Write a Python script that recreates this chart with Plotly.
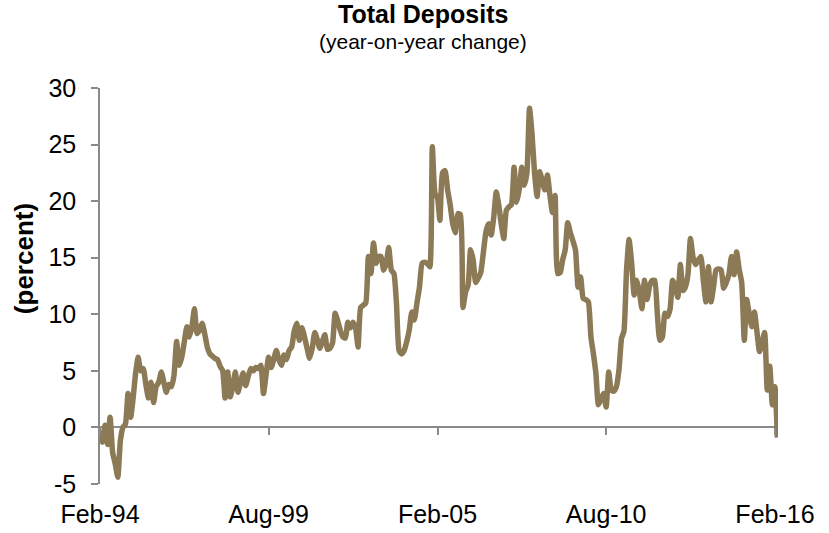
import pandas as pd
import plotly.graph_objects as go

# Year-on-year change in total deposits (percent), monthly from Feb-1994
yoy_change = [
    -0.3, -1.3, 0.2, -1.5, 0.9, -2.2, -3.2, -4.4, -1.2, 0.0, 0.3, 3.0,
    0.9, 2.5, 4.8, 6.2, 5.0, 5.2, 3.8, 2.6, 4.0, 2.2, 3.6, 4.0,
    4.9, 4.0, 3.1, 3.8, 3.6, 4.6, 7.6, 5.5, 6.2, 7.6, 8.9, 8.0,
    9.0, 10.5, 8.3, 8.6, 9.2, 8.3, 7.1, 6.5, 6.3, 6.1, 6.0, 5.4,
    5.0, 2.6, 4.9, 2.7, 3.6, 4.9, 3.1, 4.0, 4.8, 3.7, 4.5, 5.2,
    5.0, 5.3, 5.2, 5.5, 3.0, 4.6, 6.2, 5.3, 6.0, 6.8, 6.0, 5.5,
    6.4, 6.0, 6.8, 7.1, 8.5, 9.2, 7.7, 8.8, 8.0, 7.0, 6.1, 7.0,
    8.4, 7.8, 7.0, 7.6, 8.2, 6.9, 7.0, 7.5, 10.1, 9.4, 8.6, 8.0,
    7.9, 9.3, 8.8, 9.3, 8.8, 7.1, 10.6, 10.8, 11.0, 15.1, 13.6, 16.3,
    14.5, 15.1, 15.1, 13.9, 14.5, 15.9, 13.9, 13.6, 11.0, 6.8, 6.5, 6.8,
    7.6, 8.6, 10.2, 9.5, 11.0, 12.4, 14.5, 14.6, 14.5, 14.2, 24.8, 20.7,
    20.3, 18.3, 22.5, 22.7, 21.0, 19.7, 18.0, 17.2, 18.9, 18.8, 10.6, 12.0,
    12.6, 15.7, 14.8, 12.8, 13.2, 13.7, 15.5, 17.3, 18.0, 17.0, 18.5, 20.8,
    19.6, 18.0, 16.7, 19.2, 19.5, 19.7, 23.0, 19.9, 21.0, 23.0, 21.4, 22.5,
    28.2, 26.0, 22.5, 20.4, 22.6, 21.8, 21.0, 22.3, 20.5, 19.0, 20.5, 13.6,
    13.7, 14.8, 15.7, 18.1, 17.2, 16.5, 15.7, 12.4, 13.3, 11.4, 11.3, 11.1,
    8.0, 6.6, 4.8, 2.0, 2.5, 3.0, 1.8, 4.9, 3.3, 3.2, 3.6, 5.1,
    7.9, 8.5, 13.9, 16.6, 14.5, 11.7, 13.0, 12.0, 10.5, 13.0, 11.3, 12.5,
    13.0, 13.0, 10.1, 7.7, 8.0, 10.1, 9.8, 10.5, 13.0, 12.5, 11.5, 14.4,
    12.1, 12.4, 13.5, 16.7, 15.0, 14.4, 14.8, 15.1, 13.0, 11.1, 14.2, 11.1,
    12.5, 13.9, 14.0, 13.9, 12.3, 12.8, 13.5, 15.1, 13.5, 15.5, 14.0, 12.8,
    7.7, 11.3, 10.0, 8.9, 10.2, 8.5, 6.7, 7.5, 8.4, 3.3, 5.4, 2.0,
    3.6, -0.9,
]
months = pd.date_range("1994-02-01", periods=len(yoy_change), freq="MS")

tick_dates = ["1994-02-01", "1999-08-01", "2005-02-01", "2010-08-01", "2016-02-01"]
tick_labels = ["Feb-94", "Aug-99", "Feb-05", "Aug-10", "Feb-16"]
y_ticks = [-5, 0, 5, 10, 15, 20, 25, 30]
y_tick_labels = ["-5", "0", "5", "10", "15", "20", "25", "30"]

x_range = ["1994-02-01", "2016-03-08"]
axis_grey = "#8a8a8a"
line_colour = "#8C7A57"
font_family = "Liberation Sans, Arial, sans-serif"

fig = go.Figure()
fig.add_trace(go.Scatter(
    x=months, y=yoy_change, mode="lines",
    line=dict(color=line_colour, width=5.5, shape="spline", smoothing=0.5),
    showlegend=False, hoverinfo="x+y",
))
# Invisible copy so the zero-line tick axis gets its own subplot
fig.add_trace(go.Scatter(
    x=months, y=yoy_change, mode="lines", xaxis="x2",
    line=dict(color=line_colour, width=0), opacity=0,
    showlegend=False, hoverinfo="skip",
))

fig.update_layout(
    width=829, height=533,
    margin=dict(l=100, r=51, t=88, b=49, autoexpand=False),
    paper_bgcolor="white", plot_bgcolor="white",
    font=dict(family=font_family, color="black"),
    xaxis=dict(
        range=x_range, tickvals=tick_dates, ticktext=tick_labels,
        ticks="", showline=False, showgrid=False, zeroline=False,
        tickfont=dict(size=25), ticklabelstandoff=13, automargin=False,
    ),
    xaxis2=dict(
        range=x_range, overlaying="x", anchor="free", position=5 / 35,
        tickvals=tick_dates, showticklabels=False,
        ticks="outside", ticklen=7, tickwidth=1.5, tickcolor=axis_grey,
        showline=False, showgrid=False, zeroline=False, automargin=False,
    ),
    yaxis=dict(
        range=[-5, 30], tickvals=y_ticks, ticktext=y_tick_labels,
        ticks="outside", ticklen=7, tickwidth=1.5, tickcolor=axis_grey,
        showline=True, linecolor=axis_grey, linewidth=1.5,
        showgrid=False, zeroline=True, zerolinecolor=axis_grey, zerolinewidth=1.5,
        tickfont=dict(size=25), ticklabelstandoff=10, automargin=False,
    ),
    annotations=[
        dict(text="<b>Total Deposits</b>", xref="paper", yref="paper",
             x=0.4764, y=1.186, xanchor="center", yanchor="middle",
             showarrow=False, font=dict(size=25)),
        dict(text="(year-on-year change)", xref="paper", yref="paper",
             x=0.4764, y=1.118, xanchor="center", yanchor="middle",
             showarrow=False, font=dict(size=21)),
        dict(text="<b>(percent)</b>", xref="paper", yref="paper",
             x=-0.112, y=0.568, xanchor="center", yanchor="middle",
             textangle=-90, showarrow=False, font=dict(size=26)),
    ],
)

fig.write_html("out.html")
